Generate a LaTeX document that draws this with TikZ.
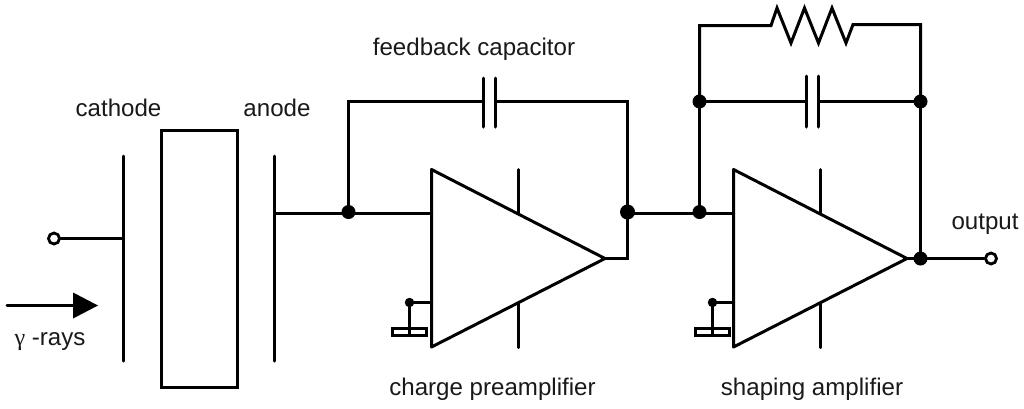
\documentclass[tikz,border=0pt]{standalone}
\usepackage{fontspec}
\setmainfont{Liberation Sans}
\newfontfamily\gammafont{Liberation Serif}
\tikzset{
  wire/.style={line width=3pt,line join=miter,line cap=round,black},
  thin wire/.style={line width=3pt,line cap=round,black},
  dot/.style={circle,fill=black,draw=none,inner sep=0pt,minimum size=#1},
  term/.style={circle,fill=white,draw=black,line width=2.8pt,inner sep=0pt,minimum size=11pt},
  lab/.style={inner sep=0pt,font=\fontsize{24.1pt}{26pt}\selectfont,text=black!90,anchor=base},
  amp/.style={wire,line join=round},
}
\begin{document}
\begin{tikzpicture}[x=1pt,y=-1pt]
\useasboundingbox (0,0) rectangle (1024,408);
\fill[white] (0,0) rectangle (1024,408);

% Labels
\node[lab] (lfb) at (474,55) {feedback capacitor};
\node[lab] (lcat) at (118.5,116) {cathode};
\node[lab] (lan) at (277,116) {anode};
\node[lab] (lray) at (50,345) {{\gammafont γ} -rays};
\node[lab] (lout) at (985,229) {output};
\node[lab] (lcp) at (492.5,395) {charge preamplifier};
\node[lab] (lsa) at (812,395) {shaping amplifier};

% Detector
\coordinate (catT) at (123.5,156);
\coordinate (catB) at (123.5,361);
\coordinate (catJ) at (123.5,238.5);
\coordinate (anT) at (274.5,156);
\coordinate (anB) at (274.5,361);
\coordinate (anJ) at (274.5,213.5);
\node[draw=black,line width=3pt,minimum width=76pt,minimum height=257pt,inner sep=0pt] (crystal) at (199,258.5) {};
\draw[wire] (catT) -- (catB);
\draw[wire] (anT) -- (anB);
\node[term] (tin) at (54,238.5) {};
\draw[wire] (tin) -- (catJ);

% Gamma arrow
\coordinate (rayA) at (7,305.5);
\coordinate (rayB) at (74,305.5);
\coordinate (rayH) at (98,305.5);
\draw[wire] (rayA) -- (rayB);
\fill[black] (73,292.5) -- (rayH) -- (73,318.5) -- cycle;

% Amplifier 1
\coordinate (a1T) at (431.5,169.5);
\coordinate (a1B) at (431.5,347);
\coordinate (a1O) at (605,258.5);
\draw[amp] (a1T) -- (a1O) -- (a1B) -- cycle;
\coordinate (a1In) at (431.5,213.5);
\coordinate (a1Gn) at (431.5,302.5);
\coordinate (a1Pa) at (518.5,169.5);
\coordinate (a1Pb) at (518.5,213);
\coordinate (a1Pc) at (518.5,303);
\coordinate (a1Pd) at (518.5,347.5);
\draw[wire] (a1Pa) -- (a1Pb);
\draw[wire] (a1Pc) -- (a1Pd);

% Amplifier 2
\coordinate (a2T) at (733.5,169.5);
\coordinate (a2B) at (733.5,347);
\coordinate (a2O) at (907,258.5);
\draw[amp] (a2T) -- (a2O) -- (a2B) -- cycle;
\coordinate (a2In) at (733.5,213.5);
\coordinate (a2Gn) at (733.5,302.5);
\coordinate (a2Pa) at (820.5,169.5);
\coordinate (a2Pb) at (820.5,213);
\coordinate (a2Pc) at (820.5,303);
\coordinate (a2Pd) at (820.5,347.5);
\draw[wire] (a2Pa) -- (a2Pb);
\draw[wire] (a2Pc) -- (a2Pd);

% Junctions
\node[dot=14pt] (j1) at (348.5,212) {};
\node[dot=15pt] (j2) at (627.5,212) {};
\node[dot=14pt] (j3) at (699.5,212) {};
\node[dot=14pt] (j4) at (699.5,101.5) {};
\node[dot=14pt] (j5) at (920.5,101.5) {};
\node[dot=14pt] (j6) at (920.5,258.5) {};
\node[term] (tout) at (991,258.5) {};

% Main wires
\draw[wire] (anJ) -- (a1In);
\draw[wire] (a1O) -- (627.5,258.5) -- (j2.center);
\draw[wire] (627.5,213.5) -- (a2In);
\draw[wire] (a2O) -- (tout);

% Feedback capacitor 1
\coordinate (c1a) at (483.5,101.5);
\coordinate (c1b) at (495.5,101.5);
\draw[wire] (j1.center) -- (348.5,101.5) -- (c1a);
\draw[wire] (c1b) -- (627.5,101.5) -- (j2.center);
\draw[wire] (483.5,78) -- (483.5,127);
\draw[wire] (495.5,78) -- (495.5,127);

% Feedback capacitor 2
\coordinate (c2a) at (806.5,101.5);
\coordinate (c2b) at (818.5,101.5);
\draw[wire] (j3.center) -- (j4.center) -- (c2a);
\draw[wire] (c2b) -- (j5.center) -- (j6.center);
\draw[wire] (806.5,76) -- (806.5,127);
\draw[wire] (818.5,76) -- (818.5,127);

% Resistor
\draw[wire,line join=miter] (j4.center) -- (699.5,25.5) -- (771,25.5) -- (777,8) -- (791,43) -- (804.5,8) -- (818.5,43) -- (832,8) -- (846,43) -- (853,24.5) -- (920.5,24.5) -- (j5.center);

% Grounds
\node[dot=9.5pt] (g1) at (409.5,302.5) {};
\node[draw=black,line width=3pt,fill=white,minimum width=34pt,minimum height=7pt,inner sep=0pt] (g1b) at (409.5,331.5) {};
\draw[thin wire] (g1.center) -- (a1Gn);
\draw[thin wire] (g1.center) -- (409.5,335);
\node[dot=9.5pt] (g2) at (712.5,302.5) {};
\node[draw=black,line width=3pt,fill=white,minimum width=34pt,minimum height=7pt,inner sep=0pt] (g2b) at (712.5,331.5) {};
\draw[thin wire] (g2.center) -- (a2Gn);
\draw[thin wire] (g2.center) -- (712.5,335);
\end{tikzpicture}
\end{document}
